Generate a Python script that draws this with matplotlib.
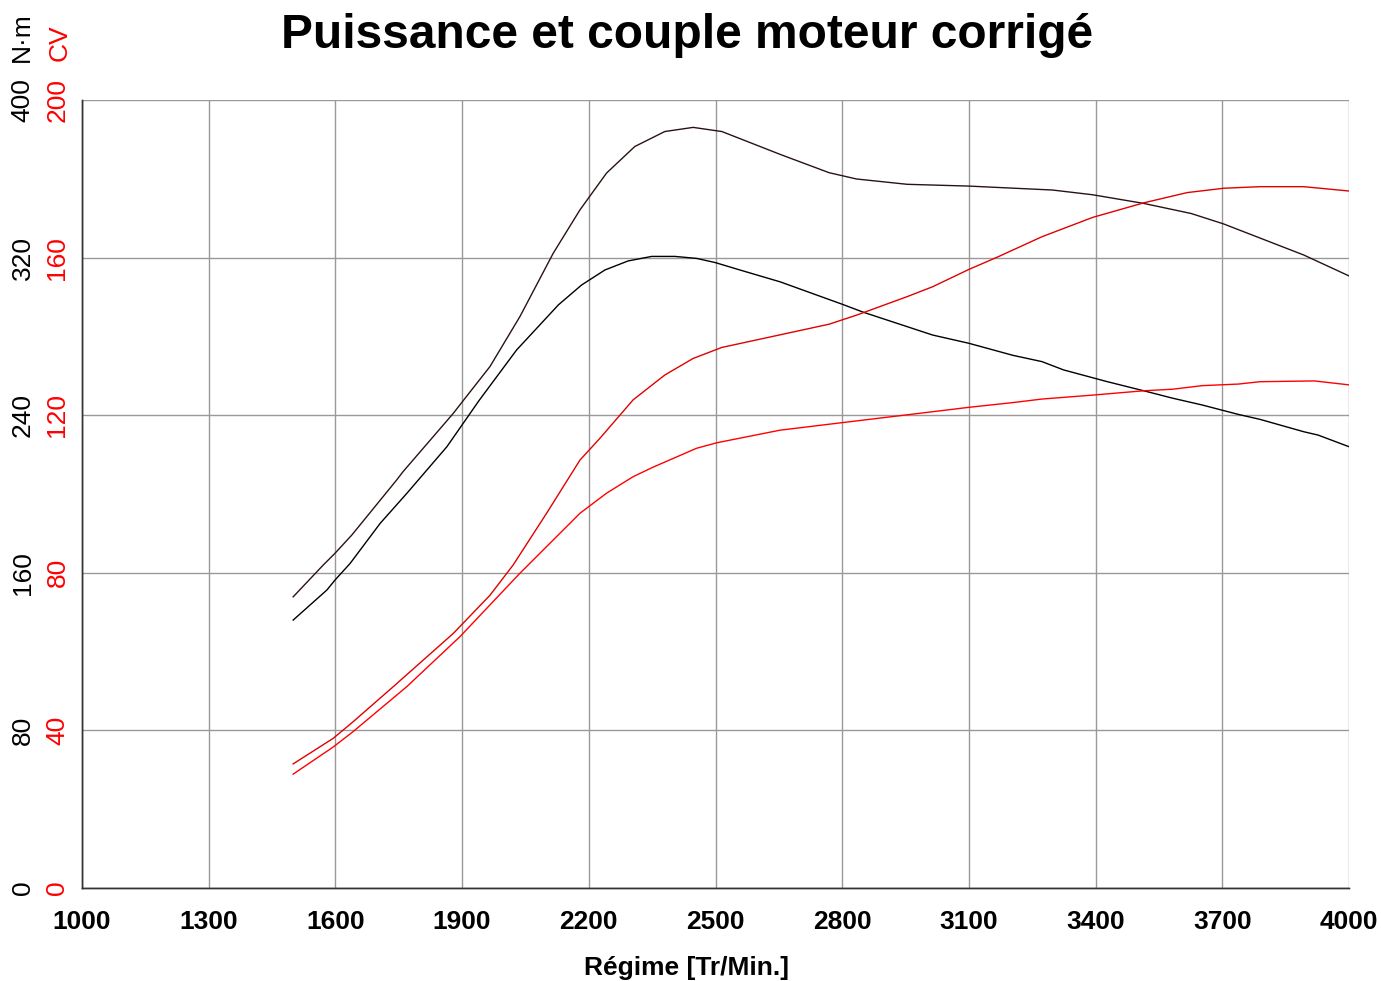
import matplotlib
matplotlib.use("Agg")
import matplotlib.pyplot as plt

plt.rcParams['font.family'] = ['Liberation Sans', 'DejaVu Sans']

# Upper torque curve (N·m)
t1_rpm = [1500, 1571, 1599, 1639, 1745, 1760, 1879, 1907, 1966, 2037, 2116, 2179, 2242,
          2309, 2380, 2447, 2515, 2653, 2769, 2834, 2954, 3100, 3298, 3393, 3514, 3626,
          3703, 3798, 3893, 4000]
t1_val = [147.8, 163.9, 169.9, 179.2, 207.1, 211.3, 240.9, 248.6, 264.7, 290.1, 322.3,
          344.2, 362.9, 376.4, 384.0, 386.1, 384.0, 372.4, 363.1, 359.9, 357.2, 356.3,
          354.3, 351.9, 347.5, 342.4, 337.1, 329.2, 321.3, 310.7]

# Lower torque curve (N·m)
t2_rpm = [1500, 1580, 1599, 1635, 1706, 1769, 1864, 1941, 2029, 2128, 2183, 2238, 2293,
          2349, 2404, 2455, 2499, 2558, 2653, 2799, 2851, 3014, 3100, 3204, 3273, 3324,
          3428, 3514, 3583, 3652, 3738, 3789, 3893, 3927, 4000]
t2_val = [136.0, 151.3, 156.3, 164.8, 185.1, 200.3, 224.0, 247.7, 273.1, 296.0, 306.1,
          313.7, 318.3, 320.6, 320.6, 319.6, 317.5, 313.7, 307.7, 296.4, 292.2, 280.7,
          276.5, 270.4, 267.2, 263.0, 257.0, 252.4, 248.6, 245.2, 240.4, 237.9, 231.6,
          229.9, 224.0]

# Upper power curve (CV)
p1_rpm = [1500, 1595, 1642, 1737, 1879, 1966, 2021, 2100, 2179, 2226, 2305, 2380, 2447,
          2515, 2653, 2769, 2834, 2954, 3014, 3100, 3169, 3273, 3393, 3514, 3617, 3703,
          3789, 3893, 4000]
p1_val = [31.5, 38.0, 42.2, 51.1, 64.6, 74.3, 82.0, 95.1, 108.6, 114.1, 123.9, 130.2,
          134.4, 137.2, 140.4, 143.1, 145.4, 150.1, 152.6, 157.0, 160.2, 165.3, 170.2,
          173.9, 176.5, 177.6, 178.0, 178.0, 176.9]

# Lower power curve (CV)
p2_rpm = [1500, 1595, 1642, 1769, 1895, 2037, 2179, 2242, 2305, 2352, 2455, 2503, 2653,
          2799, 2954, 3100, 3204, 3273, 3393, 3514, 3583, 3652, 3738, 3789, 3918, 4000]
p2_val = [28.9, 35.8, 39.7, 51.1, 63.8, 79.9, 95.1, 100.2, 104.4, 106.8, 111.6, 113.0,
          116.2, 118.1, 120.1, 122.0, 123.2, 124.1, 125.1, 126.2, 126.6, 127.5, 127.9,
          128.5, 128.7, 127.7]

x_ticks = [1000, 1300, 1600, 1900, 2200, 2500, 2800, 3100, 3400, 3700, 4000]
nm_ticks = [0, 80, 160, 240, 320, 400]
cv_ticks = [0, 40, 80, 120, 160, 200]

W, H = 1381, 981
fig = plt.figure(figsize=(W / 100, H / 100), dpi=100)
ax = fig.add_axes([82 / W, (H - 888) / H, 1267 / W, 788 / H])
ax2 = ax.twinx()

ax.set_xlim(1000, 4000)
ax.set_ylim(0, 400)
ax2.set_ylim(0, 200)

ax.set_xticks(x_ticks)
ax.set_xticklabels([str(v) for v in x_ticks], fontsize=19, fontweight='bold')
ax.set_yticks(nm_ticks)
ax.set_yticklabels([str(v) for v in nm_ticks], fontsize=19, rotation=90,
                   va='center', color='black')
ax2.set_yticks(cv_ticks)
ax2.set_yticklabels([str(v) for v in cv_ticks], fontsize=19, rotation=90,
                    va='center', color='red')
ax2.yaxis.tick_left()
ax2.yaxis.set_label_position('left')

ax.tick_params(axis='x', length=0, pad=16)
ax.tick_params(axis='y', length=0, pad=34)
ax2.tick_params(axis='y', length=0, pad=9)

ax.grid(True, color='#999999', linewidth=1.0)
ax.set_axisbelow(True)
for a in (ax, ax2):
    a.spines['top'].set_visible(False)
    a.spines['right'].set_visible(False)
    a.spines['left'].set_color('#333333')
    a.spines['bottom'].set_color('#333333')
    a.spines['left'].set_linewidth(1.0)
    a.spines['bottom'].set_linewidth(1.0)

ax.plot(t1_rpm, t1_val, color='#2a1212', linewidth=1.0)
ax.plot(t2_rpm, t2_val, color='black', linewidth=1.0)
ax2.plot(p1_rpm, p1_val, color='#e00000', linewidth=1.0)
ax2.plot(p2_rpm, p2_val, color='#ff0000', linewidth=1.0)

ax.set_xlabel('Régime [Tr/Min.]', fontsize=19, fontweight='bold')
ax.xaxis.set_label_coords((686 - 82) / 1267, -(968 - 888) / 788)
ax.xaxis.label.set_va('center')

fig.text(687 / W, 1 - 36 / H, 'Puissance et couple moteur corrigé', fontsize=34.5,
         fontweight='bold', ha='center', va='center')
fig.text(22 / W, 1 - 37 / H, 'N·m', fontsize=19, rotation=90, ha='center',
         va='center', color='black')
fig.text(60 / W, 1 - 43 / H, 'CV', fontsize=19, rotation=90, ha='center',
         va='center', color='red')

fig.savefig('out.png', dpi=100)
